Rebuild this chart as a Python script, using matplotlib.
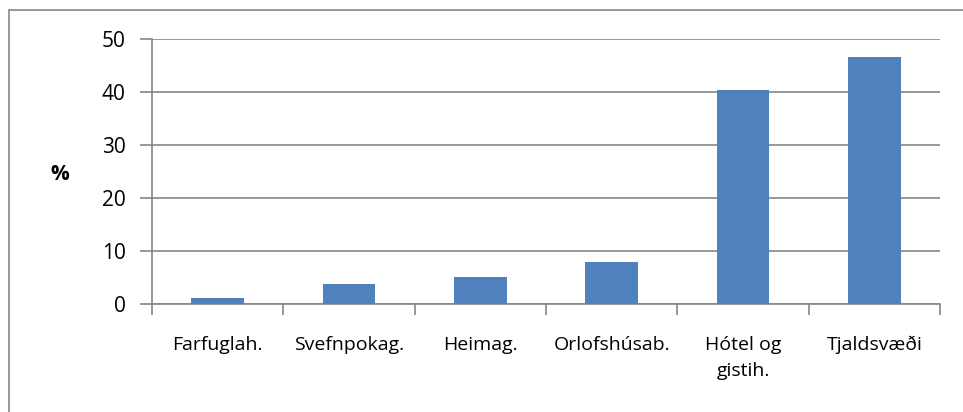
import numpy as np
import matplotlib.pyplot as plt
from matplotlib.patches import Rectangle

# gistitegundir og hlutfall (%)
categories = ["Farfuglah.", "Svefnpokag.", "Heimag.", "Orlofshúsab.", "Hótel og\ngistih.", "Tjaldsvæði"]
values = [1.1, 3.7, 5.1, 7.8, 40.4, 46.6]
yticks = [0, 10, 20, 30, 40, 50]

plt.rcParams['font.family'] = ['Open Sans', 'DejaVu Sans']

fig = plt.figure(figsize=(9.63, 4.12), dpi=100)
ax = fig.add_axes([152/963, 1 - 303.7/412, (940-152)/963, (303.7-39.3)/412])

x = np.arange(len(categories))
ax.bar(x, values, width=0.4, color="#4F81BD", zorder=3)

ax.set_xlim(-0.5, len(categories) - 0.5)
ax.set_ylim(0, 50)
ax.set_yticks(yticks)
ax.set_yticklabels([str(v) for v in yticks], fontsize=15)
ax.yaxis.grid(True, color="#868686", linewidth=1.2, zorder=0)

# x ticks at category boundaries, labels centered
ax.set_xticks(np.arange(-0.5, len(categories)), minor=False)
ax.set_xticklabels([])
ax.set_xticks(x, minor=True)
ax.set_xticklabels(categories, minor=True, fontsize=14, linespacing=1.6, va="top")
ax.tick_params(axis="x", which="minor", length=0, pad=23)
ax.tick_params(axis="x", which="major", length=8, color="#868686", width=1.2)
ax.tick_params(axis="y", length=9, color="#868686", width=1.2, pad=10)

for s in ["top", "right"]:
    ax.spines[s].set_visible(False)
for s in ["left", "bottom"]:
    ax.spines[s].set_color("#868686")
    ax.spines[s].set_linewidth(1.2)

fig.text(60/963, 1 - 175/412, "%", fontsize=15, fontweight="bold", ha="center", va="center")

# outer chart border
fig.patches.append(Rectangle((9/963, -0.1), 1.2, 1 - 10/412 + 0.1, transform=fig.transFigure,
                             fill=False, edgecolor="#868686", linewidth=1.2))

fig.savefig("out.png", dpi=100)
